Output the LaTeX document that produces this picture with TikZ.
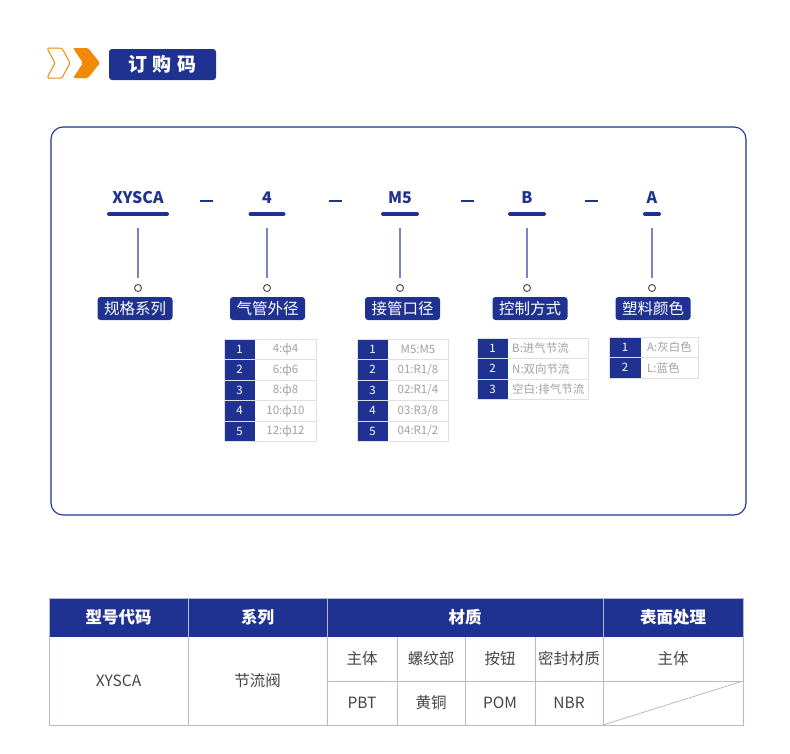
\documentclass[tikz,border=0pt]{standalone}
\usepackage{fontspec}
\setmainfont{Noto Sans CJK SC}
\usetikzlibrary{positioning}
\definecolor{navy}{RGB}{32,50,145}
\definecolor{chevron}{RGB}{240,138,8}
\definecolor{stemline}{RGB}{120,132,196}
\definecolor{cellline}{RGB}{222,222,228}
\definecolor{cellgray}{RGB}{160,160,166}
\definecolor{gridline}{RGB}{178,186,214}
\definecolor{bodygray}{RGB}{68,68,72}
\tikzset{
  codeletter/.style={font=\bfseries\fontsize{16}{16}\selectfont, text=navy},
  underbar/.style={navy, line width=4pt, line cap=round},
  stem/.style={stemline, line width=1.2pt, shorten >=6pt},
  dot/.style={circle, draw=bodygray, line width=0.9pt, minimum size=7pt, inner sep=0pt},
  tagbox/.style={fill=navy, rounded corners=3pt, text=white, minimum width=75pt,
    minimum height=23pt, inner sep=0pt, font=\fontsize{15.5}{15.5}\selectfont},
  numtext/.style={text=white, font=\fontsize{11.5}{11.5}\selectfont},
  valtext/.style={text=cellgray, font=\fontsize{11.5}{11.5}\selectfont, inner sep=0pt},
  headtext/.style={text=white, font=\bfseries\fontsize{16.5}{16.5}\selectfont},
  bodytext/.style={text=bodygray, font=\fontsize{15.5}{15.5}\selectfont},
}
% option table: name, left, split, right, top, text x, anchor, entries
\newcommand\opttable[8]{%
  \foreach \txt [count=\i] in {#8} {
    \pgfmathsetmacro\ya{#5+(\i-1)*20.5}
    \pgfmathsetmacro\yb{#5+\i*20.5}
    \fill[navy] (#2,\ya) rectangle (#3,\yb);
    \draw[cellline, line width=0.8pt] (#2,\ya) rectangle (#4,\yb);
    \node[numtext] (#1-n\i) at ({(#2+#3)/2},{(\ya+\yb)/2}) {\i};
    \node[valtext, anchor=#7] (#1-v\i) at (#6,{(\ya+\yb)/2}) {\txt};
  }
}
\begin{document}
\begin{tikzpicture}[x=1pt, y=-1pt]
  \useasboundingbox (0,0) rectangle (790,753);

  % title
  \draw[chevron, line width=1pt, rounded corners=1.5pt, line join=round]
    (47,48) -- (62,48) -- (70,63) -- (62,78) -- (47,78) -- (55,63) -- cycle;
  \fill[chevron, rounded corners=1.5pt]
    (73,48) -- (88,48) -- (100,63) -- (88,78) -- (73,78) -- (83,63) -- cycle;
  \node[fill=navy, rounded corners=3pt, minimum width=107pt, minimum height=31pt,
    text=white, font=\bfseries\fontsize{19}{19}\selectfont] (title) at (162.5,64.5)
    {订\hspace{6pt}购\hspace{6pt}码};

  % frame
  \draw[navy, line width=1.1pt, rounded corners=12pt] (51,127) rectangle (746,515);

  % code row
  \foreach \code/\x/\w/\tag/\tx [count=\i] in
    {XYSCA/138/29/规格系列/135, 4/267/16.5/气管外径/267.5, M5/400/17/接管口径/402.5,
     B/527/17/控制方式/530, A/652/7/塑料颜色/653} {
    \node[codeletter] (c\i) at (\x,198) {\code};
    \coordinate (ul\i) at (\x-\w,214);
    \coordinate (ur\i) at (\x+\w,214);
    \draw[underbar] (ul\i) -- (ur\i);
    \coordinate (s\i) at (\x,228);
    \node[dot] (d\i) at (\x,288) {};
    \draw[stem] (s\i) -- (d\i);
    \node[tagbox] (t\i) at (\tx,308.5) {\tag};
  }
  \foreach \x in {206.5, 335, 467, 591.5}
    \draw[navy, line width=1.1pt] (\x-6.5,201) -- (\x+6.5,201);

  % option tables
  \opttable{tube}{224}{255}{316}{339}{285.5}{center}{4:ф4, 6:ф6, 8:ф8, 10:ф10, 12:ф12}
  \opttable{port}{357}{388}{448}{339}{418}{center}{M5:M5, 01:R1/8, 02:R1/4, 03:R3/8, 04:R1/2}
  \opttable{ctrl}{477}{508}{588}{338}{512}{west}{B:进气节流, N:双向节流, 空白:排气节流}
  \opttable{color}{609}{641}{698}{337}{647}{west}{A:灰白色, L:蓝色}

  % spec table
  \fill[navy] (49,598) rectangle (743,637);
  \draw[gridline, line width=1pt] (49,598) rectangle (743,725);
  \foreach \x in {188, 327, 603}
    \draw[gridline, line width=1pt] (\x,598) -- (\x,725);
  \foreach \x in {397, 465, 535}
    \draw[gridline, line width=1pt] (\x,637) -- (\x,725);
  \draw[gridline, line width=1pt] (327,681) -- (743,681);
  \draw[gridline, line width=0.8pt] (603,725) -- (743,681);

  \node[headtext] (h1) at (118.5,617.5) {型号代码};
  \node[headtext] (h2) at (257.5,617.5) {系列};
  \node[headtext] (h3) at (465,617.5) {材质};
  \node[headtext] (h4) at (673,617.5) {表面处理};

  \node[bodytext] (model) at (118.5,681) {XYSCA};
  \node[bodytext] (series) at (257.5,681) {节流阀};
  \foreach \a/\b/\x [count=\i] in {主体/PBT/362, 螺纹部/黄铜/431, 按钮/POM/500, 密封材质/NBR/569} {
    \node[bodytext] (m\i) at (\x,659) {\a};
    \node[bodytext] (v\i) at (\x,703) {\b};
  }
  \node[bodytext] (surface) at (673,659) {主体};
\end{tikzpicture}
\end{document}
